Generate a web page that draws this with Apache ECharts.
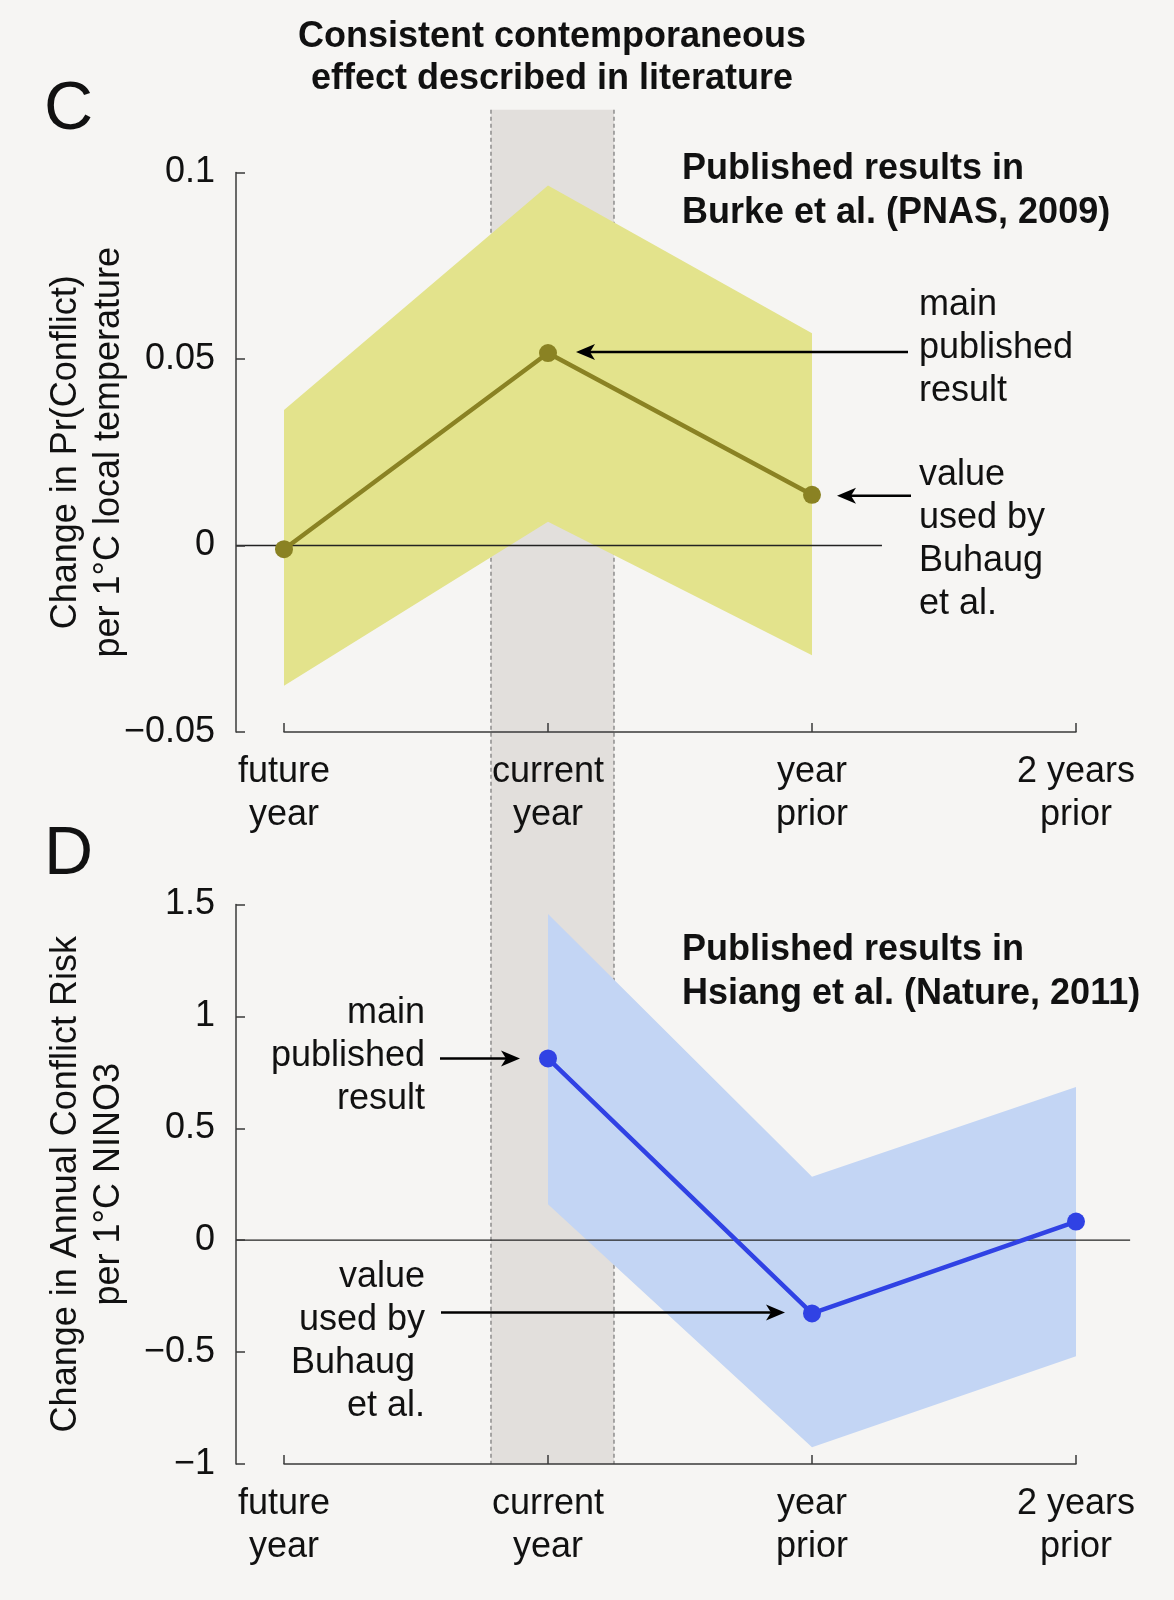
<!DOCTYPE html>
<html><head><meta charset="utf-8">
<script src="https://cdn.jsdelivr.net/npm/echarts@6/dist/echarts.min.js"></script>
<style>html,body{margin:0;padding:0;background:#f6f5f3;}#chart{width:1174px;height:1600px;}</style>
</head><body><div id="chart"></div>
<script>
// ---- data ----
const categories = ['future\nyear', 'current\nyear', 'year\nprior', '2 years\nprior'];
const burkeX = [0, 1, 2];
const burkeEst = [-0.001, 0.0516, 0.0136];
const burkeUpper = [0.0363, 0.0965, 0.0569];
const burkeLower = [-0.0376, 0.0064, -0.0294];
const hsiangX = [1, 2, 3];
const hsiangEst = [0.812, -0.327, 0.083];
const hsiangUpper = [1.458, 0.284, 0.685];
const hsiangLower = [0.161, -0.925, -0.519];
const yRangeC = [-0.05, 0.1, 0.05];
const yRangeD = [-1, 1.5, 0.5];
const zeroSpanC = [-0.182, 2.265];
const zeroSpanD = [-0.182, 3.205];
const grayBandX = [0.784, 1.25];

const FONT = '"Liberation Sans", Arial, Helvetica, sans-serif';
const YELLOW = '#e3e38c', OLIVE = '#8a8223';
const BLUE_FILL = '#c3d5f4', BLUE = '#3042e4';
const AXIS = '#3a3a3a';
const FS = 36;

function fmt(v){ v = +v.toFixed(4); return v < 0 ? '\u2212' + Math.abs(v) : String(v); }

function xAxisCfg(gi){
  return { gridIndex: gi, type: 'value', min: 0, max: 3, interval: 1, z: 10,
    axisLine: { onZero: false, lineStyle: { color: AXIS, width: 1.5 } },
    axisTick: { inside: true, length: 9, lineStyle: { color: AXIS, width: 1.5 } },
    splitLine: { show: false },
    axisLabel: { margin: 19, fontSize: FS, lineHeight: 43, color: '#111', fontFamily: FONT,
      formatter: v => categories[Math.round(v)] || '' } };
}
function yAxisCfg(gi, r, name){
  return { gridIndex: gi, type: 'value', min: r[0], max: r[1], interval: r[2], offset: 48, z: 10,
    axisLine: { show: true, onZero: false, lineStyle: { color: AXIS, width: 1.5 } },
    axisTick: { show: true, inside: true, length: 9, lineStyle: { color: AXIS, width: 1.5 } },
    splitLine: { show: false },
    axisLabel: { margin: 21, fontSize: FS, color: '#111', fontFamily: FONT, formatter: fmt },
    name: name, nameLocation: 'middle', nameRotate: 90, nameGap: 105, nameMoveOverlap: false,
    nameTextStyle: { fontSize: FS, lineHeight: 43, color: '#111', fontFamily: FONT } };
}
function bandSeries(gi, xs, up, lo, color){
  return { type: 'custom', xAxisIndex: gi, yAxisIndex: gi, z: 3, silent: true,
    data: xs.map((x, i) => [x, up[i], lo[i]]), encode: { x: 0, y: [1, 2] },
    renderItem(params, api){
      if (params.dataIndex !== 0) return null;
      const pts = [];
      for (let i = 0; i < xs.length; i++) pts.push(api.coord([xs[i], up[i]]));
      for (let i = xs.length - 1; i >= 0; i--) pts.push(api.coord([xs[i], lo[i]]));
      return { type: 'polygon', shape: { points: pts }, style: { fill: color } };
    } };
}
function zeroSeries(gi, span){
  return { type: 'custom', xAxisIndex: gi, yAxisIndex: gi, z: 4, silent: true, clip: false,
    data: [[span[0], 0], [span[1], 0]], encode: { x: 0, y: 1 },
    renderItem(params, api){
      if (params.dataIndex !== 0) return null;
      const a = api.coord([span[0], 0]), b = api.coord([span[1], 0]);
      return { type: 'line', shape: { x1: a[0], y1: a[1], x2: b[0], y2: b[1] },
        style: { stroke: '#222', lineWidth: 1.3 } };
    } };
}
function lineSeries(gi, xs, ys, color){
  return { type: 'line', xAxisIndex: gi, yAxisIndex: gi, z: 5, silent: true,
    data: xs.map((x, i) => [x, ys[i]]), symbol: 'circle', symbolSize: 18,
    lineStyle: { color: color, width: 4.5 }, itemStyle: { color: color }, animation: false };
}

const chart = echarts.init(document.getElementById('chart'));
chart.setOption({
  backgroundColor: '#f6f5f3',
  animation: false,
  grid: [
    { left: 284, right: 98, top: 172.5, height: 559.5 },
    { left: 284, right: 98, top: 904.5, height: 559.5 }
  ],
  xAxis: [xAxisCfg(0), xAxisCfg(1)],
  yAxis: [
    yAxisCfg(0, yRangeC, 'Change in Pr(Conflict)\nper 1\u00B0C local temperature'),
    yAxisCfg(1, yRangeD, 'Change in Annual Conflict Risk\nper 1\u00B0C NINO3')
  ],
  series: [
    bandSeries(0, burkeX, burkeUpper, burkeLower, YELLOW),
    zeroSeries(0, zeroSpanC),
    lineSeries(0, burkeX, burkeEst, OLIVE),
    bandSeries(1, hsiangX, hsiangUpper, hsiangLower, BLUE_FILL),
    zeroSeries(1, zeroSpanD),
    lineSeries(1, hsiangX, hsiangEst, BLUE)
  ]
});

// ---- overlays computed through the chart's scales ----
const pC = (x, y) => chart.convertToPixel({ gridIndex: 0 }, [x, y]);
const pD = (x, y) => chart.convertToPixel({ gridIndex: 1 }, [x, y]);
const bandTL = pC(grayBandX[0], yRangeC[1] + 0.0168);
const bandBR = pD(grayBandX[1], yRangeD[0]);

function txt(text, x, y, opts){
  return { type: 'text', z: 20, silent: true, style: Object.assign({
    text: text, x: x, y: y, fill: '#111', font: FS + 'px ' + FONT,
    align: 'left', verticalAlign: 'middle', lineHeight: 43 }, opts || {}) };
}
function arrow(x1, x2, y){
  const dir = x2 > x1 ? 1 : -1;
  const L = 19, W = 8, N = 14;
  return [
    { type: 'line', z: 20, silent: true, shape: { x1: x1, y1: y, x2: x2 - dir * N, y2: y },
      style: { stroke: '#000', lineWidth: 2.5 } },
    { type: 'polygon', z: 20, silent: true,
      shape: { points: [[x2, y], [x2 - dir * L, y - W], [x2 - dir * N, y], [x2 - dir * L, y + W]] },
      style: { fill: '#000' } }
  ];
}
const c1 = pC(burkeX[1], burkeEst[1]);
const c2 = pC(burkeX[2], burkeEst[2]);
const d1 = pD(hsiangX[0], hsiangEst[0]);
const d2 = pD(hsiangX[1], hsiangEst[1]);
const BOLD = 'bold 36px ' + FONT;

const graphics = [
  { type: 'rect', z: 1, silent: true,
    shape: { x: bandTL[0], y: bandTL[1], width: bandBR[0] - bandTL[0], height: bandBR[1] - bandTL[1] },
    style: { fill: '#e2dfdc' } },
  { type: 'line', z: 1, silent: true, shape: { x1: bandTL[0], y1: bandTL[1], x2: bandTL[0], y2: bandBR[1] },
    style: { stroke: '#777', lineWidth: 1.2, lineDash: [4, 3] } },
  { type: 'line', z: 1, silent: true, shape: { x1: bandBR[0], y1: bandTL[1], x2: bandBR[0], y2: bandBR[1] },
    style: { stroke: '#777', lineWidth: 1.2, lineDash: [4, 3] } },
  txt('Consistent contemporaneous\neffect described in literature', 552, 58,
      { align: 'center', font: BOLD, lineHeight: 42.5 }),
  txt('C', 44, 110, { font: '68px ' + FONT }),
  txt('D', 44, 855, { font: '68px ' + FONT }),
  txt('Published results in\nBurke et al. (PNAS, 2009)', 682, 191, { font: BOLD, lineHeight: 44 }),
  txt('Published results in\nHsiang et al. (Nature, 2011)', 682, 972.5, { font: BOLD, lineHeight: 44 }),
  txt('main\npublished\nresult', 919, 348),
  txt('value\nused by\nBuhaug\net al.', 919, 540),
  txt('main\npublished\nresult', 425, 1056, { align: 'right' }),
  txt('value\nused by\nBuhaug \net al.', 425, 1342, { align: 'right' })
]
  .concat(arrow(908, c1[0] + 28, c1[1] - 1))
  .concat(arrow(911, c2[0] + 25, c2[1] + 1))
  .concat(arrow(440, d1[0] - 28, d1[1]))
  .concat(arrow(441, d2[0] - 27, d2[1] - 1));

chart.setOption({ graphic: graphics });
</script>
</body></html>
